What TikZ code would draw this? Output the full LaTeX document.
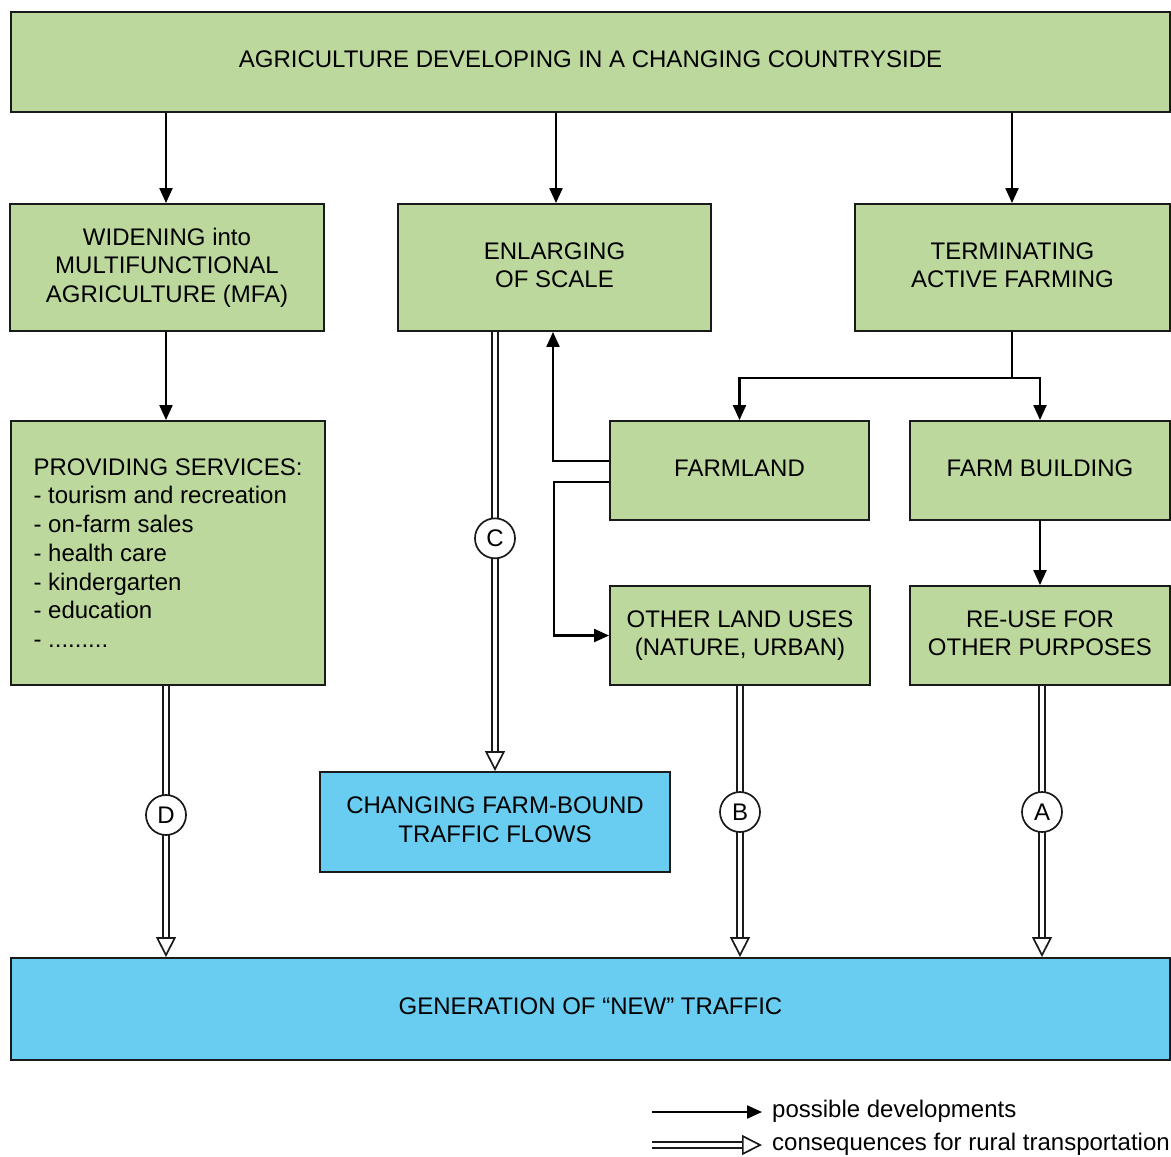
\documentclass[tikz,border=0pt]{standalone}
\usepackage{fontspec}
\setmainfont{Liberation Sans}
\usetikzlibrary{arrows.meta}
\definecolor{boxgreen}{HTML}{BDD89D}
\definecolor{boxblue}{HTML}{69CDF1}
\definecolor{edge}{HTML}{1A1A1A}
\tikzset{
  txt/.style={font=\fontsize{24}{28.7}\selectfont},
  plainbox/.style={txt, draw=edge, line width=1.9pt, inner sep=0pt},
  basebox/.style={plainbox, align=center, text depth=5pt},
  gbox/.style={basebox, fill=boxgreen},
  bbox/.style={basebox, fill=boxblue},
  listbox/.style={plainbox, fill=boxgreen, align=left},
  arr/.style={draw=black, line width=2.2pt, -{Triangle[length=15pt, width=13pt]}},
  dbl/.style={draw=edge, line width=1.7pt, double=white, double distance=4pt,
    -{Triangle[fill=white, line width=1.7pt, length=20pt, width=20pt]}},
  circ/.style={txt, circle, draw=edge, line width=1.7pt, fill=white, minimum size=40pt, inner sep=0pt},
}
\begin{document}
\begin{tikzpicture}[x=1pt, y=-1pt]
\useasboundingbox (0,0) rectangle (1171,1157);
% boxes
\node[gbox, minimum width=1159pt, minimum height=100pt] (top) at (590.5,62) {AGRICULTURE DEVELOPING IN A CHANGING COUNTRYSIDE};
\node[gbox, minimum width=314pt, minimum height=127pt] (widen) at (167,267.5) {WIDENING into\\MULTIFUNCTIONAL\\AGRICULTURE (MFA)};
\node[gbox, minimum width=313pt, minimum height=127pt] (enlarge) at (554.5,267.5) {ENLARGING\\OF SCALE};
\node[gbox, minimum width=315pt, minimum height=127pt] (term) at (1012.5,267.5) {TERMINATING\\ACTIVE FARMING};
\node[listbox, minimum width=314pt, minimum height=264pt] (prov) at (168,553) {PROVIDING SERVICES:\\- tourism and recreation\\- on-farm sales\\- health care\\- kindergarten\\- education\\- .........};
\node[gbox, minimum width=259pt, minimum height=99pt] (farmland) at (739.5,470.5) {FARMLAND};
\node[gbox, minimum width=260pt, minimum height=99pt] (farmbld) at (1040,470.5) {FARM BUILDING};
\node[gbox, minimum width=260pt, minimum height=99pt] (other) at (740,635.5) {OTHER LAND USES\\(NATURE, URBAN)};
\node[gbox, minimum width=260pt, minimum height=99pt] (reuse) at (1040,635.5) {RE-USE FOR\\OTHER PURPOSES};
\node[bbox, minimum width=350pt, minimum height=100pt] (changing) at (495,822) {CHANGING FARM-BOUND\\TRAFFIC FLOWS};
\node[bbox, minimum width=1159pt, minimum height=102pt] (gen) at (590.5,1009) {GENERATION OF “NEW” TRAFFIC};
% solid arrows
\draw[arr] (top.south -| 166,0) -- (widen.north -| 166,0);
\draw[arr] (top.south -| 556,0) -- (enlarge.north -| 556,0);
\draw[arr] (top.south -| 1012,0) -- (term.north -| 1012,0);
\draw[arr] (widen.south -| 166,0) -- (prov.north -| 166,0);
\coordinate (sp) at (1012,378);
\draw[arr] (term.south -| sp) -- (sp) -| (farmland.north);
\draw[arr] (sp) -| (farmbld.north);
\draw[arr] (farmbld.south) -- (reuse.north);
\draw[arr] ([yshift=9.5pt]farmland.west) -| (enlarge.south -| 553,0);
\draw[arr] ([yshift=-11.5pt]farmland.west) -- ++(-55,0) |- (other.west);
% double arrows
\draw[dbl] (enlarge.south -| changing.north) -- (changing.north) node[circ, pos=0.47] (cc) {C};
\draw[dbl] (prov.south -| 166,0) -- (gen.north -| 166,0) node[circ, pos=0.476] (cd) {D};
\draw[dbl] (other.south) -- (gen.north -| other.south) node[circ, pos=0.465] (cb) {B};
\draw[dbl] (reuse.south -| 1042,0) -- (gen.north -| 1042,0) node[circ, pos=0.465] (ca) {A};
% legend
\coordinate (l1a) at (652,1112);
\coordinate (l1b) at (762,1112);
\coordinate (l2a) at (652,1145);
\coordinate (l2b) at (762,1145);
\draw[arr] (l1a) -- (l1b);
\draw[dbl] (l2a) -- (l2b);
\node[txt, anchor=west, inner sep=0pt] (lt1) at (772,1111) {possible developments};
\node[txt, anchor=west, inner sep=0pt] (lt2) at (772,1144) {consequences for rural transportation};
\end{tikzpicture}
\end{document}
